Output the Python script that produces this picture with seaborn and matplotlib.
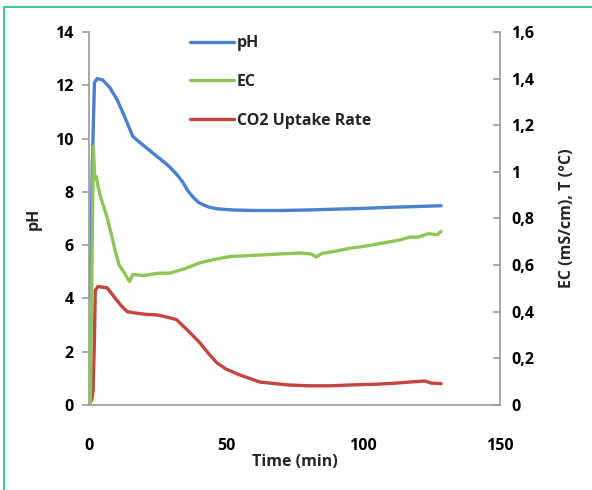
import matplotlib
matplotlib.use("Agg")
import matplotlib.pyplot as plt
import matplotlib.lines as mlines
import numpy as np
import pandas as pd
import seaborn as sns

sns.set_theme(style="white")
plt.rcParams["font.family"] = ["Open Sans", "DejaVu Sans"]
plt.rcParams["font.weight"] = "bold"

# pH (left axis)
ph_time = [0.5, 1.2, 2.0, 3.0, 5.0, 7.7, 10.2, 12.4, 14.3, 16.0, 18.6, 21.0, 24.8, 27.0,
           29.0, 30.7, 32.5, 34.3, 36.0, 38.0, 40.0, 42.0, 44.0, 47.0, 52.5, 60.0,
           70.0, 80.0, 90.0, 100.0, 110.0, 120.0, 128.5]
ph_vals = [4.0, 9.0, 12.1, 12.25, 12.2, 11.9, 11.47, 10.97, 10.5, 10.08, 9.85, 9.65, 9.33, 9.15,
           8.98, 8.8, 8.6, 8.35, 8.05, 7.8, 7.6, 7.5, 7.42, 7.36, 7.32, 7.3,
           7.3, 7.32, 7.35, 7.38, 7.42, 7.45, 7.48]

# EC (right axis, mS/cm)
ec_time = [0.5, 1.0, 1.6, 2.1, 2.6, 4.0, 6.5, 8.0, 9.5, 11.0, 13.0, 14.2, 14.8, 16.0,
           20.0, 25.0, 29.6, 35.0, 40.5, 46.0, 51.5, 57.0, 62.0, 70.0, 77.0, 81.0,
           83.0, 85.0, 90.0, 95.0, 100.0, 106.0, 113.5, 117.0, 120.0, 124.0, 127.0, 128.5]
ec_vals = [0.0, 0.5, 1.11, 0.97, 0.98, 0.9, 0.81, 0.74, 0.665, 0.6, 0.566, 0.54, 0.53, 0.56,
           0.555, 0.565, 0.566, 0.585, 0.61, 0.625, 0.637, 0.64, 0.643, 0.648, 0.652, 0.648,
           0.635, 0.65, 0.66, 0.672, 0.68, 0.692, 0.708, 0.72, 0.72, 0.735, 0.73, 0.745]

# CO2 uptake rate (left axis scale)
co2_time = [0.0, 1.0, 1.5, 2.0, 2.3, 3.3, 5.0, 6.6, 8.5, 10.0, 12.0, 14.0, 17.0, 21.0,
            25.0, 29.6, 32.0, 34.0, 37.0, 40.5, 43.5, 46.7, 50.0, 55.0, 62.4, 68.0,
            73.0, 80.0, 88.0, 95.0, 105.0, 112.0, 117.0, 122.6, 125.0, 128.5]
co2_vals = [0.0, 0.2, 0.55, 2.5, 4.3, 4.45, 4.42, 4.4, 4.15, 3.95, 3.7, 3.5, 3.45, 3.4,
            3.38, 3.27, 3.2, 3.0, 2.7, 2.33, 1.95, 1.58, 1.35, 1.13, 0.86, 0.8,
            0.75, 0.72, 0.72, 0.75, 0.78, 0.82, 0.86, 0.9, 0.82, 0.8]

x_ticks = [0, 50, 100, 150]
left_ticks = [0, 2, 4, 6, 8, 10, 12, 14]
right_ticks = [0, 0.2, 0.4, 0.6, 0.8, 1.0, 1.2, 1.4, 1.6]
right_labels = ["0", "0,2", "0,4", "0,6", "0,8", "1", "1,2", "1,4", "1,6"]

blue = "#4a80d0"
green = "#8ec556"
red = "#c4443f"
spine = "#9a9a9a"
fs = 11.5

fig = plt.figure(figsize=(5.92, 4.9), dpi=100)
ax = fig.add_axes([0.1503, 0.1735, 0.6943, 0.7612])
ax2 = ax.twinx()

ph_df = pd.DataFrame({"t": ph_time, "v": ph_vals})
ec_df = pd.DataFrame({"t": ec_time, "v": ec_vals})
co2_df = pd.DataFrame({"t": co2_time, "v": co2_vals})

sns.lineplot(data=ec_df, x="t", y="v", ax=ax2, color=green, linewidth=2.4)
sns.lineplot(data=co2_df, x="t", y="v", ax=ax, color=red, linewidth=2.4)
sns.lineplot(data=ph_df, x="t", y="v", ax=ax, color=blue, linewidth=2.4)

ax.set_xlim(0, 150)
ax.set_ylim(0, 14)
ax2.set_ylim(0, 1.6)
ax.set_xticks(x_ticks)
ax.set_yticks(left_ticks)
ax2.set_yticks(right_ticks)
ax2.set_yticklabels(right_labels)

for a in (ax, ax2):
    a.set_facecolor("none")
    a.spines["top"].set_visible(False)
    for s in ("left", "right", "bottom"):
        a.spines[s].set_color(spine)
        a.spines[s].set_linewidth(1.2)
ax.spines["right"].set_visible(False)
ax2.spines["left"].set_visible(False)
ax2.spines["bottom"].set_visible(False)

ax.tick_params(axis="both", direction="out", length=5, width=1.2, color=spine,
               labelsize=fs, labelcolor="black")
ax.tick_params(axis="x", pad=19)
ax.tick_params(axis="y", pad=6)
ax2.tick_params(axis="y", direction="in", length=5, width=1.2, color=spine,
                labelsize=fs, labelcolor="black", pad=8)
for lab in ax.get_xticklabels() + ax.get_yticklabels() + ax2.get_yticklabels():
    lab.set_fontweight("bold")

ax.set_xlabel("Time (min)", fontsize=fs, fontweight="bold", labelpad=0)
ax.set_ylabel("pH", fontsize=fs, fontweight="bold", labelpad=10)
ax2.set_ylabel("EC (mS/cm), T (°C)", fontsize=fs, fontweight="bold", labelpad=18)

handles = [
    mlines.Line2D([], [], color=blue, linewidth=2.4, label="pH"),
    mlines.Line2D([], [], color=green, linewidth=2.4, label="EC"),
    mlines.Line2D([], [], color=red, linewidth=2.4, label="CO2 Uptake Rate"),
]
leg = ax.legend(handles=handles, loc="upper left", bbox_to_anchor=(0.21, 1.03),
                frameon=False, handlelength=2.8, handletextpad=0.15,
                labelspacing=1.42, prop={"weight": "bold", "size": fs})

# figure frame (teal line on top and left)
border = "#3cc8a0"
fig.add_artist(mlines.Line2D([4 / 592, 4 / 592], [0, 1 - 7 / 490], color=border,
                             linewidth=1.5, transform=fig.transFigure))
fig.add_artist(mlines.Line2D([4 / 592, 1], [1 - 7 / 490, 1 - 7 / 490], color=border,
                             linewidth=1.5, transform=fig.transFigure))

fig.savefig("out.png", dpi=100)
